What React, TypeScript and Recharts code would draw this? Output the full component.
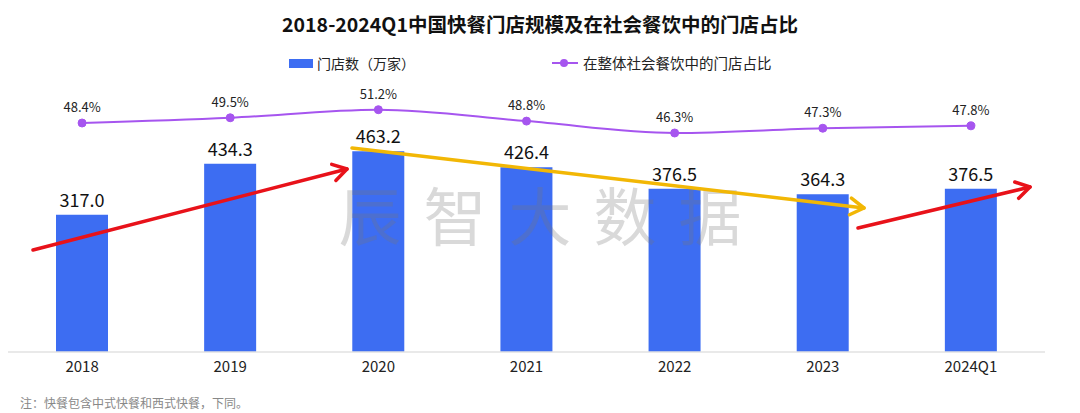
import { ComposedChart, Bar, Line, XAxis, YAxis, LabelList } from 'recharts'

const categories = ['2018', '2019', '2020', '2021', '2022', '2023', '2024Q1']
const storeCounts = [317.0, 434.3, 463.2, 426.4, 376.5, 364.3, 376.5]
const shareValues = [48.4, 49.5, 51.2, 48.8, 46.3, 47.3, 47.8]

const data = categories.map((name, i) => ({
  name,
  stores: storeCounts[i],
  share: shareValues[i],
}))

const FONT = '"Noto Sans CJK SC", "Noto Sans", sans-serif'
const BLUE = '#3d6df2'
const PURPLE = '#a655ef'

// annotation arrows drawn over the chart
const Arrow = ({ x1, y1, x2, y2, color }: { x1: number; y1: number; x2: number; y2: number; color: string }) => {
  const ang = Math.atan2(y2 - y1, x2 - x1)
  const len = 16
  const spread = 0.55
  const ax = x2 - len * Math.cos(ang - spread)
  const ay = y2 - len * Math.sin(ang - spread)
  const bx = x2 - len * Math.cos(ang + spread)
  const by = y2 - len * Math.sin(ang + spread)
  return (
    <g stroke={color} strokeWidth={3.5} fill="none" strokeLinecap="round" strokeLinejoin="round">
      <line x1={x1} y1={y1} x2={x2} y2={y2} />
      <polyline points={`${ax},${ay} ${x2},${y2} ${bx},${by}`} />
    </g>
  )
}

export default function App() {
  return (
    <div style={{ position: 'absolute', left: 0, top: 0, width: 1080, height: 413, background: '#fff', fontFamily: FONT, overflow: 'hidden' }}>
      <div style={{ position: 'absolute', top: 9, left: 0, width: 1080, textAlign: 'center', fontSize: 19.5, fontWeight: 700, color: '#111' }}>
        2018-2024Q1中国快餐门店规模及在社会餐饮中的门店占比
      </div>

      <div style={{ position: 'absolute', top: 53, left: 0, width: 1080, height: 20, lineHeight: '20px', fontSize: 14, color: '#222' }}>
        <div style={{ position: 'absolute', left: 289, top: 6, width: 24, height: 9, background: BLUE }} />
        <div style={{ position: 'absolute', left: 317, top: 0 }}>门店数（万家）</div>
        <div style={{ position: 'absolute', left: 552, top: 9, width: 26, height: 2, background: PURPLE }} />
        <div style={{ position: 'absolute', left: 560, top: 6, width: 8, height: 8, borderRadius: 4, background: PURPLE }} />
        <div style={{ position: 'absolute', left: 583, top: 0, fontSize: 14.5 }}>在整体社会餐饮中的门店占比</div>
      </div>

      <div style={{ position: 'absolute', left: 0, top: 0 }}>
        <ComposedChart width={1080} height={413} data={data} margin={{ top: 92, right: 35, bottom: 31, left: 8 }}>
          <XAxis
            dataKey="name"
            height={30}
            tickLine={false}
            axisLine={{ stroke: '#e2e2e2', strokeWidth: 1.5 }}
            tick={{ fill: '#222', fontSize: 15, fontFamily: FONT }}
            tickMargin={3}
          />
          <YAxis yAxisId="left" hide domain={[0, 600]} />
          <YAxis yAxisId="right" hide orientation="right" domain={[0.24, 54.92]} allowDataOverflow />
          <Bar yAxisId="left" dataKey="stores" fill={BLUE} barSize={52} isAnimationActive={false}>
            <LabelList
              dataKey="stores"
              position="top"
              offset={8}
              formatter={(v: any) => Number(v).toFixed(1)}
              style={{ fill: '#111', fontSize: 18, fontFamily: FONT }}
            />
          </Bar>
          <Line
            yAxisId="right"
            type="monotone"
            dataKey="share"
            stroke={PURPLE}
            strokeWidth={2}
            dot={{ r: 4, fill: PURPLE, stroke: PURPLE, strokeWidth: 1 }}
            isAnimationActive={false}
          >
            <LabelList
              dataKey="share"
              position="top"
              offset={11}
              formatter={(v: any) => `${Number(v).toFixed(1)}%`}
              style={{ fill: '#222', fontSize: 13, fontFamily: FONT }}
            />
          </Line>
        </ComposedChart>
      </div>

      {/* watermark */}
      <div style={{ position: 'absolute', left: 0, top: 167, width: 1080, textAlign: 'center', fontSize: 63, letterSpacing: 22, color: 'rgba(120,120,120,0.28)', paddingLeft: 22, boxSizing: 'border-box' }}>
        辰智大数据
      </div>

      <svg width={1080} height={413} style={{ position: 'absolute', left: 0, top: 0 }}>
        <Arrow x1={33} y1={250} x2={347} y2={169} color="#e8121a" />
        <Arrow x1={352} y1={148} x2={864} y2={208} color="#f2b705" />
        <Arrow x1={858} y1={228} x2={1030} y2={187} color="#e8121a" />
      </svg>

      <div style={{ position: 'absolute', left: 20, top: 394, fontSize: 12, color: '#888' }}>
        注：快餐包含中式快餐和西式快餐，下同。
      </div>
    </div>
  )
}
